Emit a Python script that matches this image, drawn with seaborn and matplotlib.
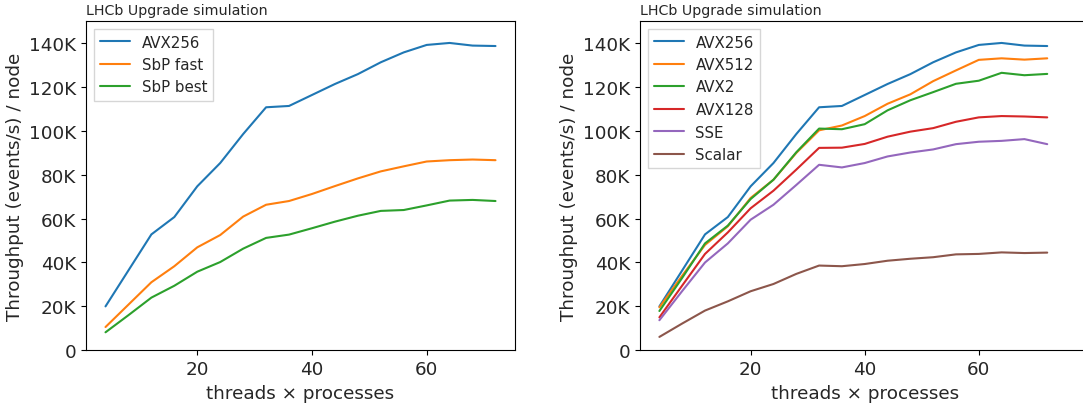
import matplotlib
matplotlib.use("Agg")
import matplotlib.pyplot as plt
from matplotlib.ticker import FuncFormatter
import seaborn as sns
import pandas as pd

threads = [4, 8, 12, 16, 20, 24, 28, 32, 36, 40, 44, 48, 52, 56, 60, 64, 68, 72]

avx256 = [20.0, 36.4, 52.8, 60.7, 74.7, 85.3, 98.5, 110.7, 111.3, 116.3, 121.3, 125.8, 131.2, 135.7, 139.1, 140.0, 138.8, 138.6]
sbp_fast = [10.6, 20.8, 31.0, 38.3, 46.9, 52.5, 60.9, 66.3, 68.0, 71.2, 74.8, 78.3, 81.5, 83.8, 86.0, 86.6, 86.9, 86.6]
sbp_best = [8.2, 16.0, 24.0, 29.4, 35.8, 40.2, 46.3, 51.2, 52.7, 55.6, 58.6, 61.3, 63.5, 63.9, 66.0, 68.2, 68.5, 68.0]

avx512 = [19.6, 34.0, 48.0, 56.5, 69.4, 77.7, 89.9, 100.2, 102.4, 106.7, 112.3, 116.6, 122.6, 127.5, 132.3, 133.0, 132.4, 133.0]
avx2 = [17.9, 33.0, 48.7, 56.8, 68.9, 77.7, 90.2, 101.0, 100.7, 103.0, 109.3, 113.9, 117.6, 121.4, 122.8, 126.4, 125.3, 125.9]
avx128 = [15.0, 29.5, 43.9, 53.7, 64.7, 72.7, 82.3, 92.2, 92.3, 94.0, 97.3, 99.6, 101.2, 104.1, 106.1, 106.7, 106.5, 106.1]
sse = [13.7, 27.0, 40.0, 48.7, 59.5, 66.3, 75.3, 84.5, 83.3, 85.3, 88.3, 90.1, 91.5, 93.9, 95.0, 95.4, 96.2, 93.9]
scalar = [6.1, 12.2, 18.1, 22.3, 26.9, 30.2, 34.8, 38.6, 38.3, 39.3, 40.8, 41.7, 42.4, 43.7, 43.9, 44.6, 44.3, 44.5]

left_names = ["AVX256", "SbP fast", "SbP best"]
left_series = [avx256, sbp_fast, sbp_best]
right_names = ["AVX256", "AVX512", "AVX2", "AVX128", "SSE", "Scalar"]
right_series = [avx256, avx512, avx2, avx128, sse, scalar]

title_text = "LHCb Upgrade simulation"
xlabel_text = "threads \u00d7 processes"
ylabel_text = "Throughput (events/s) / node"

tab = sns.color_palette("tab10")


def long_df(names, series):
    rows = []
    for n, s in zip(names, series):
        for t, v in zip(threads, s):
            rows.append({"threads": t, "throughput": v * 1000.0, "name": n})
    return pd.DataFrame(rows)


def kfmt(v, pos):
    if abs(v) < 1e-9:
        return "0"
    return f"{int(round(v / 1000))}K"


sns.set_style("ticks")
plt.rcParams["font.family"] = ["DejaVu Sans"]

fig = plt.figure(figsize=(10.83, 4.10), dpi=100)
W, H = 1083.0, 410.0
ax1 = fig.add_axes([86 / W, (H - 351.3) / H, 429 / W, 329.3 / H])
ax2 = fig.add_axes([640 / W, (H - 351.3) / H, 450 / W, 329.3 / H])

for ax, names, series, xr in [(ax1, left_names, left_series, (0.6, 75.4)),
                              (ax2, right_names, right_series, (0.6, 79.5))]:
    df = long_df(names, series)
    sns.lineplot(data=df, x="threads", y="throughput", hue="name", hue_order=names,
                 palette=tab[:len(names)], ax=ax, linewidth=1.5)
    ax.set_xlim(*xr)
    ax.set_ylim(0, 150000)
    ax.set_yticks([0, 20000, 40000, 60000, 80000, 100000, 120000, 140000])
    ax.set_xticks([20, 40, 60])
    ax.yaxis.set_major_formatter(FuncFormatter(kfmt))
    ax.tick_params(labelsize=13.2, length=3.5, width=0.8, color="black")
    ax.set_xlabel(xlabel_text, fontsize=13.2, labelpad=4)
    ax.set_ylabel(ylabel_text, fontsize=13.2, labelpad=4)
    ax.set_title(title_text, loc="left", fontsize=10.3, pad=5)
    for sp in ax.spines.values():
        sp.set_visible(True)
        sp.set_color("black")
        sp.set_linewidth(0.8)
    ax.grid(False)
    ax.legend(loc="upper left", fontsize=10.8, frameon=True, fancybox=False,
              edgecolor="0.8", framealpha=0.8)

fig.savefig("out.png", dpi=100)
